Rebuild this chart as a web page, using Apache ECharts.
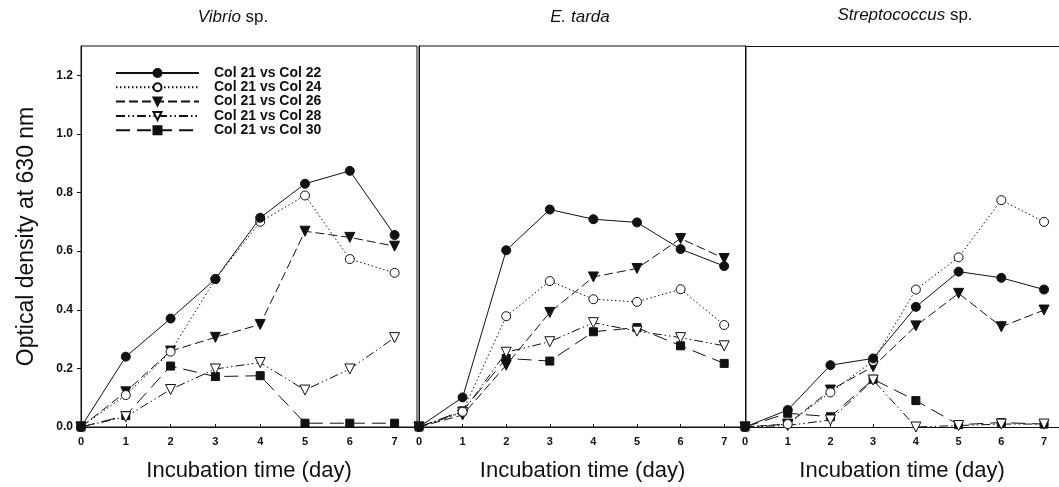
<!DOCTYPE html>
<html>
<head>
<meta charset="utf-8">
<script src="https://cdn.jsdelivr.net/npm/echarts@6/dist/echarts.min.js"></script>
<style>
html,body{margin:0;padding:0;background:#fff;}
#main{width:1059px;height:487px;}
</style>
</head>
<body>
<div id="main"></div>
<script>
// days of incubation
var days = [0, 1, 2, 3, 4, 5, 6, 7];
var seriesNames = ['Col 21 vs Col 22', 'Col 21 vs Col 24', 'Col 21 vs Col 26', 'Col 21 vs Col 28', 'Col 21 vs Col 30'];
var yTicks = [0, 0.2, 0.4, 0.6, 0.8, 1.0, 1.2];

// Vibrio sp.
var vibrio22 = [0, 0.24, 0.37, 0.505, 0.714, 0.83, 0.874, 0.655];
var vibrio24 = [0, 0.109, 0.257, 0.505, 0.70, 0.79, 0.573, 0.526];
var vibrio26 = [0, 0.12, 0.259, 0.306, 0.35, 0.668, 0.647, 0.617];
var vibrio28 = [0, 0.035, 0.128, 0.198, 0.22, 0.126, 0.198, 0.305];
var vibrio30 = [0, 0.039, 0.208, 0.172, 0.175, 0.013, 0.013, 0.013];

// E. tarda
var tarda22 = [0, 0.101, 0.603, 0.742, 0.709, 0.698, 0.607, 0.549];
var tarda24 = [0, 0.052, 0.378, 0.498, 0.436, 0.427, 0.47, 0.348];
var tarda26 = [0, 0.041, 0.211, 0.391, 0.512, 0.541, 0.643, 0.575];
var tarda28 = [0, 0.05, 0.255, 0.291, 0.356, 0.327, 0.305, 0.277];
var tarda30 = [0, 0.055, 0.234, 0.225, 0.325, 0.339, 0.277, 0.217];

// Streptococcus sp.
var strep22 = [0, 0.058, 0.211, 0.234, 0.41, 0.53, 0.509, 0.469];
var strep24 = [0, 0.01, 0.118, 0.225, 0.469, 0.579, 0.774, 0.70];
var strep26 = [0, 0.01, 0.126, 0.206, 0.345, 0.456, 0.342, 0.399];
var strep28 = [0, 0.005, 0.024, 0.16, 0.0, 0.005, 0.01, 0.01];
var strep30 = [0, 0.047, 0.035, 0.163, 0.09, 0.008, 0.015, 0.01];

var panels = [
	[vibrio22, vibrio24, vibrio26, vibrio28, vibrio30],
	[tarda22, tarda24, tarda26, tarda28, tarda30],
	[strep22, strep24, strep26, strep28, strep30]
];

var ink = '#111';
var font = 'Arial, "Liberation Sans", sans-serif';

// marker + line look of each comparison
var looks = [
	{ symbol: 'circle', size: 9, fill: ink, dash: 'solid' },
	{ symbol: 'circle', size: 9, fill: '#fff', dash: [1.5, 2.5] },
	{ symbol: 'triangle', size: 10, fill: ink, dash: [9, 4] },
	{ symbol: 'triangle', size: 10, fill: '#fff', dash: [9, 3, 1.5, 3, 1.5, 3] },
	{ symbol: 'rect', size: 8, fill: ink, dash: [14, 7] }
];

// third panel runs past the right edge of the picture
var grids = [
	{ left: 81, width: 336, top: 46, bottom: 60, show: true },
	{ left: 419, width: 327, top: 46, bottom: 60, show: true },
	{ left: 745, width: 314, top: 46, bottom: 60, show: false }
];
var xMax = [7.5, 7.5, 7.35];

var xAxes = [], yAxes = [], series = [];
for (var p = 0; p < 3; p++) {
	grids[p].borderColor = ink;
	grids[p].borderWidth = 1;
	xAxes.push({
		type: 'value', gridIndex: p, min: 0, max: xMax[p], interval: 1,
		name: 'Incubation time (day)', nameLocation: 'middle', nameGap: 33,
		nameTextStyle: { fontFamily: font, fontSize: 22, color: ink },
		axisLine: { onZero: false, lineStyle: { color: ink, width: 1 } },
		axisTick: { inside: true, length: 3, customValues: days, lineStyle: { color: ink } },
		axisLabel: { customValues: days, margin: 9, fontFamily: font, fontSize: 11, fontWeight: 'bold', color: ink },
		splitLine: { show: false }
	});
	yAxes.push({
		type: 'value', gridIndex: p, min: 0, max: 1.3, interval: 0.2,
		name: p === 0 ? 'Optical density at 630 nm' : '',
		nameLocation: 'middle', nameGap: 43,
		nameTextStyle: { fontFamily: font, fontSize: 23, color: ink },
		axisLine: { show: true, lineStyle: { color: ink, width: 1 } },
		axisTick: { show: p === 0, length: 4, customValues: yTicks, lineStyle: { color: ink } },
		axisLabel: {
			show: p === 0, customValues: yTicks, margin: 8,
			fontFamily: font, fontSize: 12, fontWeight: 'bold', color: ink,
			formatter: function (v) { return v.toFixed(1); }
		},
		splitLine: { show: false }
	});
	for (var s = 0; s < 5; s++) {
		var lk = looks[s];
		series.push({
			name: seriesNames[s],
			type: 'line',
			xAxisIndex: p, yAxisIndex: p,
			data: days.map(function (d, i) { return [d, this[i]]; }, panels[p][s]),
			symbol: lk.symbol,
			symbolSize: lk.size,
			symbolRotate: lk.symbol === 'triangle' ? 180 : 0,
			showAllSymbol: true,
			lineStyle: { color: ink, width: 1, type: lk.dash },
			itemStyle: { color: lk.fill, borderColor: ink, borderWidth: 1 },
			emphasis: { disabled: true },
			animation: false,
			z: 10 - s
		});
	}
}
// top frame line of the third panel
xAxes.push({
	type: 'value', gridIndex: 2, position: 'top', min: 0, max: xMax[2],
	axisLine: { show: true, onZero: false, lineStyle: { color: ink, width: 1 } },
	axisTick: { show: false }, axisLabel: { show: false }, splitLine: { show: false }
});

var myChart = echarts.init(document.getElementById('main'));
var option = {
	backgroundColor: '#fff',
	animation: false,
	grid: grids,
	xAxis: xAxes,
	yAxis: yAxes,
	legend: {
		data: seriesNames,
		orient: 'vertical',
		left: 110, top: 61,
		itemWidth: 83, itemHeight: 10, itemGap: 0.3,
		textStyle: { fontFamily: font, fontSize: 14, lineHeight: 13, fontWeight: 'bold', color: ink, padding: [0, 0, 0, 10] },
		selectedMode: false
	},
	graphic: [
		{ type: 'text', x: 233, y: 17, style: { text: '{i|Vibrio} sp.', align: 'center', verticalAlign: 'middle', font: '17px ' + font, fill: ink, rich: { i: { fontStyle: 'italic', fontSize: 17, fontFamily: font, fill: ink } } } },
		{ type: 'text', x: 580, y: 17, style: { text: '{i|E. tarda}', align: 'center', verticalAlign: 'middle', font: '17px ' + font, fill: ink, rich: { i: { fontStyle: 'italic', fontSize: 17, fontFamily: font, fill: ink } } } },
		{ type: 'text', x: 905, y: 15, style: { text: '{i|Streptococcus} sp.', align: 'center', verticalAlign: 'middle', font: '17px ' + font, fill: ink, rich: { i: { fontStyle: 'italic', fontSize: 17, fontFamily: font, fill: ink } } } }
	],
	series: series
};
myChart.setOption(option);
window.onresize = myChart.resize;
</script>
</body>
</html>
